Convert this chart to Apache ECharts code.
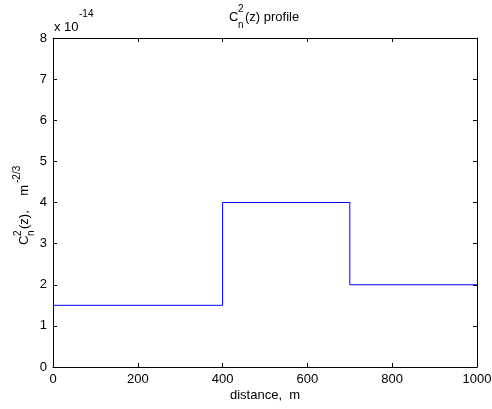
<!DOCTYPE html>
<html>
<head>
<meta charset="utf-8">
<script src="https://cdn.jsdelivr.net/npm/echarts@6/dist/echarts.min.js"></script>
<style>
  html, body { margin: 0; padding: 0; background: #fff; }
  #chart { width: 492px; height: 409px; }
</style>
</head>
<body>
<div id="chart"></div>
<script>
// Piecewise-constant refractive-index structure profile along the path
const segmentStart = [0, 400, 700];       // m
const segmentEnd   = [400, 700, 1000];    // m
const cn2Values    = [1.5, 4, 2];         // units of 1e-14 m^-2/3
const xTicks = [0, 200, 400, 600, 800, 1000];
const yTicks = [0, 1, 2, 3, 4, 5, 6, 7, 8];

const FONT = 'Liberation Sans, Arial, Helvetica, sans-serif';
const FS = 13;

// step line: start of each segment, then the final end point
const lineData = segmentStart.map((x, i) => [x, cn2Values[i]]);
lineData.push([segmentEnd[segmentEnd.length - 1], cn2Values[cn2Values.length - 1]]);

const chart = echarts.init(document.getElementById('chart'), null, { renderer: 'canvas' });

const axisCommon = {
  axisLine: { show: true, onZero: false, lineStyle: { color: '#000', width: 1 } },
  axisTick: { show: true, inside: true, length: 4, lineStyle: { color: '#000', width: 1 } },
  splitLine: { show: false },
  axisLabel: { color: '#000', fontFamily: FONT, fontSize: FS, formatter: v => String(v) }
};

function txt(x, y, text, size, align) {
  return {
    type: 'text', x: x, y: y, silent: true,
    style: { text: text, font: size + 'px ' + FONT, fill: '#000',
             align: align || 'left', verticalAlign: 'middle' }
  };
}

chart.setOption({
  animation: false,
  backgroundColor: '#fff',
  grid: { left: 53, right: 15, top: 38, bottom: 42, containLabel: false, outerBoundsMode: 'none' },
  xAxis: [
    Object.assign({}, axisCommon, {
      type: 'value', min: xTicks[0], max: xTicks[xTicks.length - 1], interval: 200, position: 'bottom',
      axisLabel: Object.assign({}, axisCommon.axisLabel, { margin: 6 })
    }),
    Object.assign({}, axisCommon, {
      type: 'value', min: xTicks[0], max: xTicks[xTicks.length - 1], interval: 200, position: 'top',
      axisLabel: { show: false }
    })
  ],
  yAxis: [
    Object.assign({}, axisCommon, {
      type: 'value', min: yTicks[0], max: yTicks[yTicks.length - 1], interval: 1, position: 'left',
      axisLabel: Object.assign({}, axisCommon.axisLabel, { margin: 6 })
    }),
    Object.assign({}, axisCommon, {
      type: 'value', min: yTicks[0], max: yTicks[yTicks.length - 1], interval: 1, position: 'right',
      axisLabel: { show: false }
    })
  ],
  series: [{
    type: 'line',
    step: 'end',
    data: lineData,
    showSymbol: false,
    lineStyle: { color: '#0000ff', width: 1 },
    xAxisIndex: 0, yAxisIndex: 0
  }],
  graphic: [
    // title: C_n^2(z) profile
    txt(229, 17, 'C', FS),
    txt(238, 9, '2', 10),
    txt(238, 25, 'n', 10),
    txt(245, 17, '(z) profile', FS),
    // exponent above the y axis
    txt(54, 27, 'x 10', FS),
    txt(79, 14, '-14', 10),
    // x axis name
    txt(265, 395, 'distance,  m', FS, 'center'),
    // rotated y axis name: C_n^2(z),  m^-2/3
    {
      type: 'group', x: 24, y: 245, rotation: Math.PI / 2, silent: true,
      children: [
        txt(0, 0, 'C', FS),
        txt(9, -6, '2', 10),
        txt(9, 7, 'n', 10),
        txt(16, 0, '(z),    m', FS),
        txt(62, -7, '-2/3', 10)
      ]
    }
  ]
});
</script>
</body>
</html>
